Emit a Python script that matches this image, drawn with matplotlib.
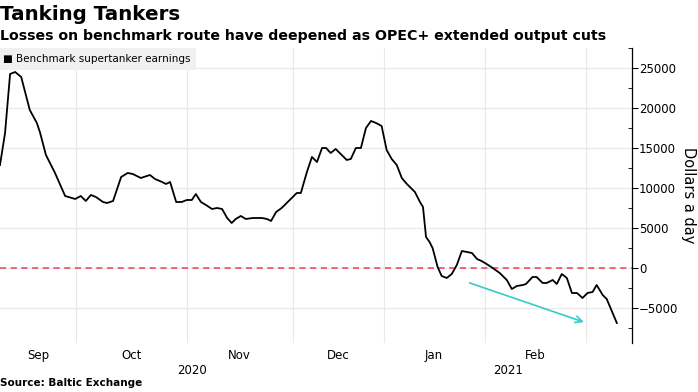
import matplotlib
matplotlib.use("Agg")
import matplotlib.pyplot as plt
from matplotlib.ticker import MultipleLocator

# Baltic Exchange benchmark supertanker earnings, $/day
# x axis is trading-day index counted from the first point (mid Sep 2020)
day = [0.0, 1.0, 2.0, 3.0, 4.2, 5.9, 7.3, 7.9, 9.1, 10.9,
       12.9, 14.9, 16.0, 17.0, 18.0, 19.0, 20.4, 21.2, 22.4, 24.0,
       25.3, 26.3, 27.9, 29.7, 30.7, 32.1, 32.9, 33.7, 34.9, 36.0,
       37.0, 38.0, 38.8, 39.8, 40.8, 42.0, 43.0, 44.0, 45.0, 45.9,
       46.7, 47.7, 48.7, 50.1, 51.9, 52.9, 53.7, 54.7, 55.8, 56.8,
       57.8, 58.8, 59.6, 60.8, 61.8, 62.8, 63.8, 64.6, 65.5, 66.5,
       67.7, 68.7, 69.5, 70.5, 71.5, 72.5, 73.5, 74.5, 75.6, 76.6,
       77.6, 78.6, 79.6, 80.6, 82.2, 83.2, 83.8, 84.4, 85.1, 85.7,
       86.7, 87.5, 88.5, 89.5, 90.5, 91.5, 92.5, 93.5, 94.5, 95.4,
       96.4, 97.6, 99.0, 100.4, 101.4, 102.4, 103.6, 104.2, 105.5, 106.3,
       107.5, 108.3, 109.5, 110.3, 111.3, 112.3, 113.3, 114.3, 115.4, 116.4,
       117.4, 118.2, 119.4, 120.2, 122.2]
earnings = [12875, 16875, 24250, 24500, 23875, 19750, 18125, 17000, 14125, 11875,
            9000, 8625, 9000, 8375, 9125, 8875, 8250, 8125, 8375, 11375,
            11875, 11750, 11250, 11625, 11125, 10750, 10500, 10750, 8250, 8250,
            8500, 8500, 9250, 8250, 7875, 7375, 7500, 7375, 6250, 5625,
            6125, 6500, 6125, 6250, 6250, 6125, 5875, 7000, 7500, 8125,
            8750, 9375, 9375, 12000, 13875, 13250, 15000, 15000, 14375, 14875,
            14125, 13500, 13625, 15000, 15000, 17500, 18375, 18125, 17750, 14750,
            13625, 12875, 11250, 10500, 9500, 8250, 7625, 3875, 3250, 2500,
            125, -1000, -1250, -750, 375, 2125, 2000, 1875, 1125, 875,
            500, 0, -625, -1500, -2625, -2250, -2125, -2000, -1125, -1125,
            -1875, -1875, -1500, -2000, -750, -1250, -3125, -3125, -3750, -3125,
            -3000, -2125, -3375, -3875, -6875]

# month starts (trading-day index) and labels
month_starts = [0.0, 15.0, 37.0, 58.0, 76.0, 96.0, 116.0]
month_names = ["Sep", "Oct", "Nov", "Dec", "Jan", "Feb"]
years = ["2020", "2021"]
x_end = 125.2

# trend arrow (start, end)
arrow_day = [92.5, 116.2]
arrow_val = [-1750, -6875]

fig = plt.figure(figsize=(6.98, 3.92), dpi=100)
ax = fig.add_axes([0.0, 0.125, 0.9054, 0.7526])

ax.plot(day, earnings, color="black", lw=1.3, zorder=3)
ax.axhline(0, color="#f03c5a", lw=1.1, ls=(0, (4, 3)), zorder=2)
ax.annotate("", xy=(arrow_day[1], arrow_val[1]), xytext=(arrow_day[0], arrow_val[0]),
            arrowprops=dict(arrowstyle="->", color="#33cccc", lw=1.2, mutation_scale=12),
            zorder=4)

ax.set_xlim(0, x_end)
ax.set_ylim(-9375, 27500)

for s in ["top", "left", "bottom"]:
    ax.spines[s].set_visible(False)
ax.spines["right"].set_color("black")
ax.spines["right"].set_linewidth(0.9)

ax.yaxis.tick_right()
ax.yaxis.set_major_locator(MultipleLocator(5000))
ax.yaxis.set_minor_locator(MultipleLocator(2500))
ax.tick_params(axis="y", which="major", length=4, width=0.8, labelsize=8.5, pad=1)
ax.tick_params(axis="y", which="minor", length=3, width=0.6, direction="in")
ax.yaxis.set_label_position("right")
ax.set_ylabel("Dollars a day", rotation=-90, labelpad=13, fontsize=10.5)

ax.set_xticks(month_starts[1:])
ax.set_xticklabels([])
ax.tick_params(axis="x", length=0)
ax.grid(True, color="#e8e8e8", lw=0.8, zorder=0)

mids = [(a + b) / 2 for a, b in zip(month_starts[:-1], month_starts[1:])]
for m, name in zip(mids, month_names):
    ax.text(m, -0.02, name, transform=ax.get_xaxis_transform(), ha="center", va="top", fontsize=8.5)
ax.text((month_starts[0] + month_starts[4]) / 2, -0.072, years[0],
        transform=ax.get_xaxis_transform(), ha="center", va="top", fontsize=8.5)
ax.text((month_starts[4] + x_end) / 2, -0.072, years[1],
        transform=ax.get_xaxis_transform(), ha="center", va="top", fontsize=8.5)

# legend box
ax.text(0.004, 0.962, "\u25a0 Benchmark supertanker earnings", transform=ax.transAxes,
        ha="left", va="center", fontsize=7.5, zorder=5,
        bbox=dict(boxstyle="square,pad=0.6", fc="#f0f0f0", ec="none"))

fig.text(0.0, 0.962, "Tanking Tankers", fontsize=14.3, fontweight="bold", ha="left", va="center")
fig.text(0.0, 0.908, "Losses on benchmark route have deepened as OPEC+ extended output cuts",
         fontsize=10.2, fontweight="bold", ha="left", va="center")
fig.text(0.0, 0.023, "Source: Baltic Exchange", fontsize=7.5, fontweight="bold", ha="left", va="center")

fig.savefig("out.png", dpi=100)
